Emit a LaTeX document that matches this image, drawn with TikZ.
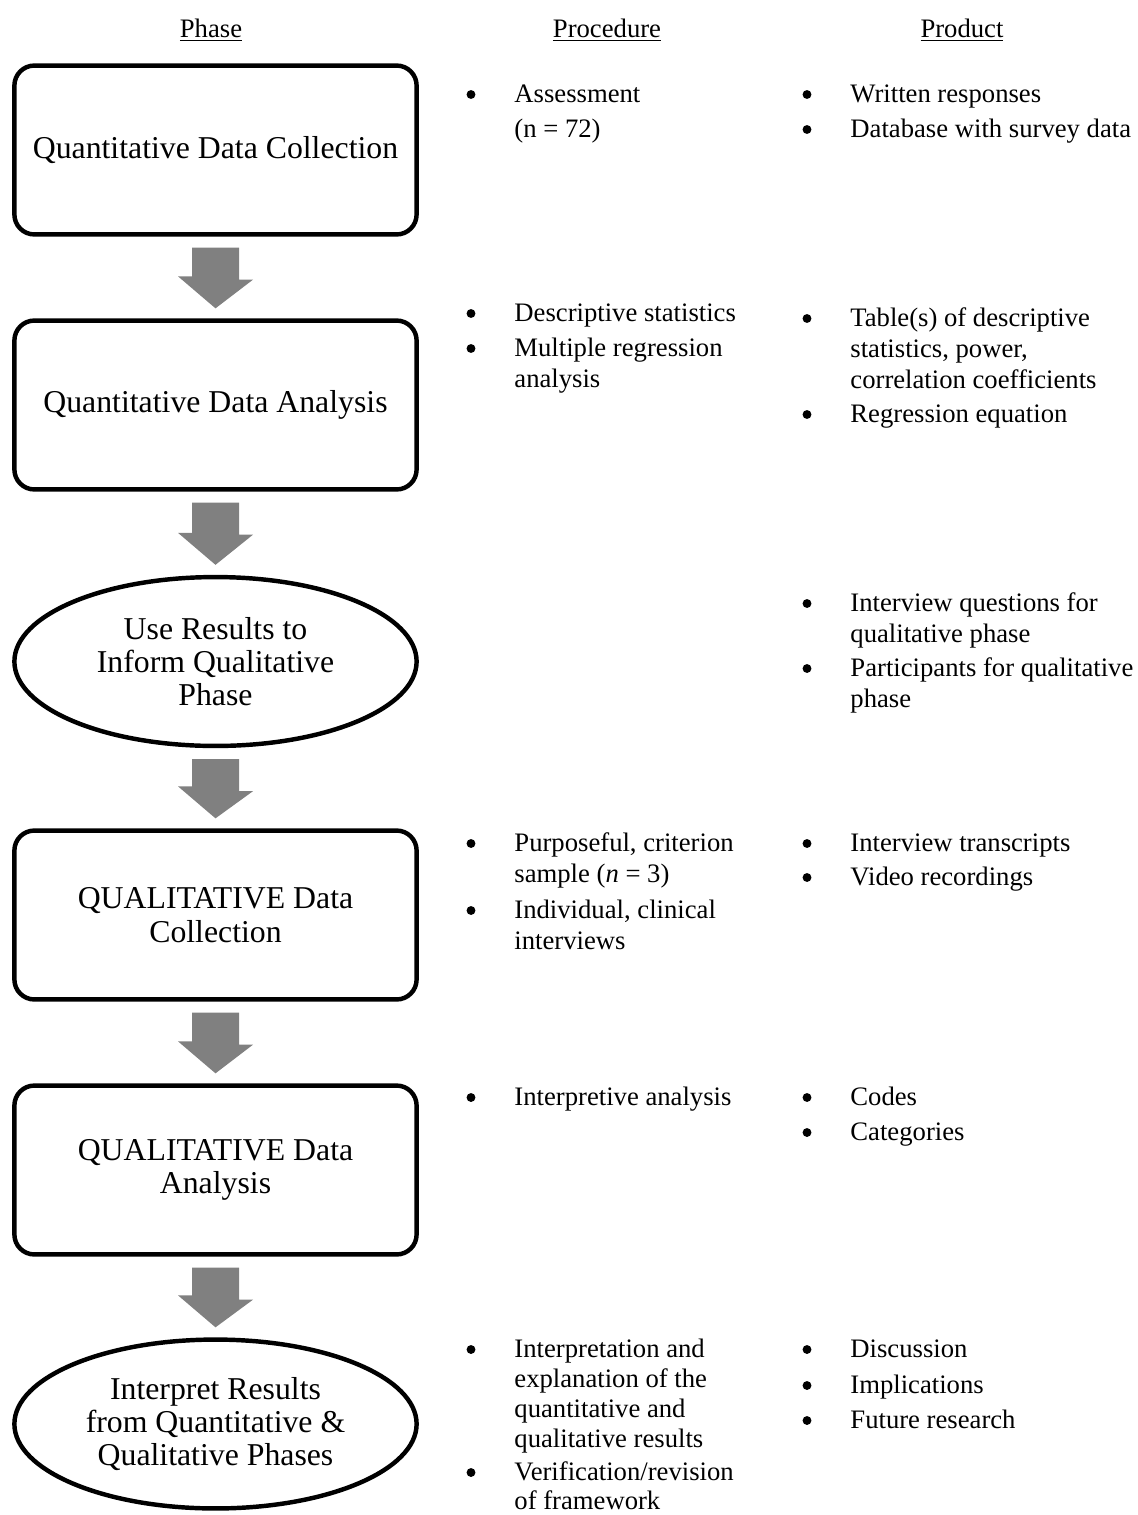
\documentclass[tikz,border=0pt]{standalone}
\usepackage{fontspec}
\setmainfont{Liberation Serif}
\usetikzlibrary{calc,shapes.geometric}

\begin{document}
\begin{tikzpicture}[x=0.45pt, y=-0.45pt,
    phase/.style ={draw, line width=2pt, rounded corners=9pt, minimum width=181pt,
      minimum height=76pt, align=center, font=\fontsize{14.3}{15}\selectfont},
    oval/.style ={draw, line width=2pt, ellipse, inner sep=1pt, minimum width=181pt,
      minimum height=76pt, align=center, font=\fontsize{14.3}{15}\selectfont},
    heading/.style ={anchor=base, inner sep=0pt, font=\fontsize{12}{14}\selectfont},
    dot/.style ={circle, fill, inner sep=0pt, minimum size=4pt},
    entry/.style ={anchor=base west, inner sep=0pt, text width=200pt, align=flush left,
      font=\fontsize{12}{14}\selectfont}]
   \useasboundingbox (0,0) rectangle (1138,1515);

   \node[heading] (hph) at (211,37) {\underline{Phase}};
   \node[heading] (hpc) at (607,37) {\underline{Procedure}};
   \node[heading] (hpd) at (962,37) {\underline{Product}};

   \node[phase] (qnc) at (215.5,150) {Quantitative Data Collection};
   \node[phase] (qna) at (215.5,405) {Quantitative Data Analysis};
   \node[oval] (inf) at (215.5,661.5) {Use Results to\\Inform Qualitative\\Phase};
   \node[phase] (qlc) at (215.5,915) {QUALITATIVE Data\\Collection};
   \node[phase] (qla) at (215.5,1170) {QUALITATIVE Data\\Analysis};
   \node[oval] (itp) at (215.5,1424) {Interpret Results\\from Quantitative \&\\Qualitative Phases};

   \foreach \a/\b in {qnc/qna, qna/inf, inf/qlc, qlc/qla, qla/itp}
     \fill[gray] ($(\a.south)+(-23.5,11)$) -- ++(47,0) -- ++(0,32) -- ++(14,0)
       -- ($(\b.north)+(0,-10)$) -- ++(-37.5,-32) -- ++(14,0) -- cycle;

   \foreach \y [count=\i] in {102,321,356,851,918,1105,1357,1480}
     \node[dot] (pb\i) at (471,\y-7.5) {};
   \foreach \y [count=\i] in {102,137,326,422,611,676,851,885,1105,1140,1357,1393,1428}
     \node[dot] (rb\i) at (807,\y-7.5) {};

   \node[entry] (p1) at (514,102) {Assessment\\[1.8pt](n = 72)};
   \node[entry] (p2a) at (514,321) {Descriptive statistics};
   \node[entry] (p2b) at (514,356) {Multiple regression\\analysis};
   \node[entry] (p4a) at (514,851) {Purposeful, criterion\\sample (\textit{n} = 3)};
   \node[entry] (p4b) at (514,918) {Individual, clinical\\interviews};
   \node[entry] (p5) at (514,1105) {Interpretive analysis};
   \node[entry] (p6a) at (514,1357) {Interpretation and\\[-0.5pt]explanation of the\\[-0.5pt]quantitative and\\[-0.5pt]qualitative results};
   \node[entry] (p6b) at (514,1480) {Verification/revision\\[-0.7pt]of framework};

   \node[entry] (r1a) at (850,102) {Written responses};
   \node[entry] (r1b) at (850,137) {Database with survey data};
   \node[entry] (r2a) at (850,326) {Table(s) of descriptive\\statistics, power,\\correlation coefficients};
   \node[entry] (r2b) at (850,422) {Regression equation};
   \node[entry] (r3a) at (850,611) {Interview questions for\\qualitative phase};
   \node[entry] (r3b) at (850,676) {Participants for qualitative\\phase};
   \node[entry] (r4a) at (850,851) {Interview transcripts};
   \node[entry] (r4b) at (850,885) {Video recordings};
   \node[entry] (r5a) at (850,1105) {Codes};
   \node[entry] (r5b) at (850,1140) {Categories};
   \node[entry] (r6a) at (850,1357) {Discussion};
   \node[entry] (r6b) at (850,1393) {Implications};
   \node[entry] (r6c) at (850,1428) {Future research};
\end{tikzpicture}
\end{document}
